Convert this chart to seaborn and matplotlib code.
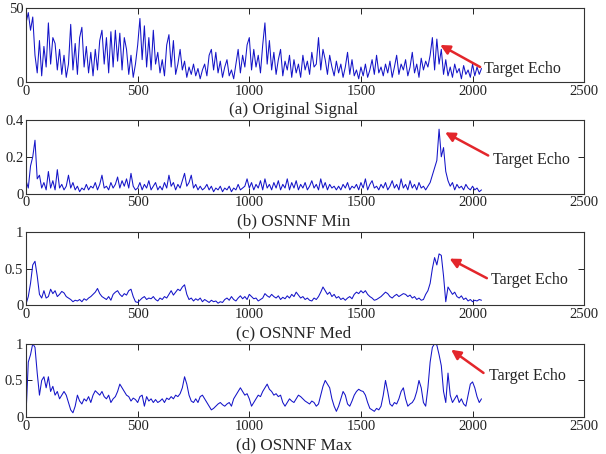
import numpy as np
import seaborn as sns
import matplotlib.pyplot as plt

# sample index (every 10th sample of the 2048-sample record)
samples = np.arange(0, 2048, 10)

# (a) original signal
original = [40, 47, 35, 44, 18, 6, 28, 4, 24, 10,
            40, 12, 30, 26, 8, 22, 5, 18, 3, 12,
            39, 8, 26, 5, 30, 37, 10, 24, 6, 20,
            4, 22, 8, 28, 35, 12, 30, 6, 34, 10,
            35, 14, 33, 8, 30, 22, 5, 18, 3, 12,
            25, 43, 15, 38, 10, 30, 8, 35, 12, 20,
            6, 15, 4, 25, 32, 10, 28, 5, 12, 22,
            8, 14, 3, 10, 5, 12, 4, 9, 2, 8,
            12, 4, 18, 22, 8, 20, 6, 14, 3, 10,
            15, 4, 8, 2, 12, 22, 6, 18, 10, 25,
            30, 8, 22, 10, 18, 6, 25, 40, 12, 28,
            8, 20, 5, 15, 22, 4, 14, 8, 18, 3,
            15, 6, 12, 3, 18, 8, 14, 5, 20, 10,
            12, 30, 8, 22, 15, 5, 18, 10, 4, 14,
            6, 12, 3, 10, 20, 5, 15, 4, 8, 2,
            10, 4, 12, 3, 8, 15, 5, 18, 6, 10,
            4, 12, 6, 14, 3, 10, 18, 5, 12, 8,
            15, 4, 10, 20, 6, 12, 3, 16, 8, 14,
            10, 18, 30, 8, 29, 12, 22, 5, 15, 4,
            10, 3, 12, 6, 9, 2, 11, 5, 8, 3,
            12, 4, 10, 5, 9]

# (b) OSNNF Min
osnnf_min = [0.07, 0.03, 0.15, 0.2, 0.29, 0.08, 0.1, 0.03, 0.06, 0.02,
             0.12, 0.03, 0.07, 0.02, 0.13, 0.03, 0.05, 0.02, 0.04, 0.1,
             0.03, 0.06, 0.02, 0.04, 0.01, 0.03, 0.02, 0.05, 0.02, 0.04,
             0.03, 0.06, 0.02, 0.05, 0.1, 0.03, 0.04, 0.02, 0.06, 0.03,
             0.05, 0.09, 0.03, 0.07, 0.04, 0.08, 0.03, 0.11, 0.04, 0.02,
             0.03, 0.06, 0.02, 0.05, 0.03, 0.07, 0.02, 0.04, 0.06, 0.02,
             0.04, 0.02, 0.06, 0.03, 0.1, 0.04, 0.06, 0.02, 0.05, 0.03,
             0.07, 0.11, 0.04, 0.06, 0.1, 0.03, 0.05, 0.02, 0.04, 0.02,
             0.03, 0.05, 0.02, 0.04, 0.01, 0.03, 0.02, 0.04, 0.01, 0.03,
             0.02, 0.04, 0.01, 0.03, 0.02, 0.05, 0.02, 0.03, 0.04, 0.08,
             0.03, 0.06, 0.02, 0.05, 0.03, 0.07, 0.02, 0.08, 0.03, 0.05,
             0.02, 0.06, 0.03, 0.07, 0.02, 0.05, 0.03, 0.08, 0.02, 0.06,
             0.03, 0.07, 0.02, 0.05, 0.03, 0.06, 0.02, 0.04, 0.07, 0.03,
             0.05, 0.02, 0.08, 0.03, 0.06, 0.02, 0.05, 0.03, 0.04, 0.02,
             0.04, 0.02, 0.05, 0.03, 0.06, 0.02, 0.04, 0.03, 0.05, 0.02,
             0.06, 0.03, 0.08, 0.02, 0.05, 0.07, 0.03, 0.04, 0.02, 0.05,
             0.03, 0.06, 0.02, 0.04, 0.07, 0.03, 0.05, 0.02, 0.08, 0.03,
             0.05, 0.02, 0.07, 0.03, 0.05, 0.02, 0.06, 0.03, 0.04, 0.02,
             0.04, 0.06, 0.1, 0.14, 0.18, 0.35, 0.2, 0.25, 0.12, 0.07,
             0.04, 0.06, 0.02, 0.05, 0.03, 0.04, 0.02, 0.05, 0.03, 0.02,
             0.04, 0.02, 0.03, 0.01, 0.02]

# (c) OSNNF Med
osnnf_med = [0.02, 0.12, 0.3, 0.55, 0.6, 0.4, 0.15, 0.1, 0.2, 0.1,
             0.12, 0.22, 0.16, 0.2, 0.12, 0.15, 0.19, 0.17, 0.12, 0.1,
             0.08, 0.05, 0.07, 0.06, 0.08, 0.05, 0.09, 0.07, 0.1, 0.12,
             0.15, 0.18, 0.23, 0.16, 0.12, 0.1, 0.08, 0.12, 0.07, 0.15,
             0.18, 0.2, 0.15, 0.12, 0.16, 0.14, 0.2, 0.22, 0.12, 0.05,
             0.04, 0.07, 0.1, 0.12, 0.08, 0.1, 0.09, 0.12, 0.08, 0.06,
             0.1, 0.08, 0.12, 0.1, 0.15, 0.2, 0.14, 0.18, 0.22, 0.2,
             0.25, 0.28, 0.15, 0.08, 0.1, 0.06, 0.09, 0.07, 0.1, 0.05,
             0.08, 0.06, 0.04, 0.07, 0.05, 0.06, 0.03, 0.05, 0.04, 0.08,
             0.1, 0.07, 0.12, 0.08, 0.06, 0.1, 0.13, 0.09, 0.12, 0.08,
             0.15, 0.12, 0.09, 0.1, 0.06, 0.08, 0.1, 0.16, 0.13, 0.11,
             0.15, 0.12, 0.1, 0.13, 0.08, 0.11, 0.09, 0.13, 0.1, 0.15,
             0.12, 0.18, 0.14, 0.1, 0.12, 0.08, 0.1, 0.07, 0.06, 0.1,
             0.08, 0.12, 0.18, 0.25, 0.2, 0.15, 0.18, 0.12, 0.15, 0.1,
             0.12, 0.08, 0.1, 0.07, 0.1, 0.12, 0.09, 0.15, 0.18, 0.16,
             0.2, 0.17, 0.2, 0.15, 0.12, 0.1, 0.07, 0.08, 0.1, 0.12,
             0.15, 0.18, 0.16, 0.12, 0.1, 0.13, 0.15, 0.12, 0.14, 0.16,
             0.15, 0.12, 0.14, 0.1, 0.12, 0.08, 0.1, 0.07, 0.08, 0.15,
             0.2, 0.3, 0.5, 0.65, 0.55, 0.7, 0.68, 0.4, 0.05, 0.25,
             0.2, 0.15, 0.18, 0.12, 0.1, 0.13, 0.08, 0.1, 0.06, 0.08,
             0.05, 0.07, 0.06, 0.08, 0.07]

# (d) OSNNF Max
osnnf_max = [0.05, 0.75, 0.85, 1.0, 0.95, 0.6, 0.3, 0.5, 0.55, 0.4,
             0.55, 0.35, 0.42, 0.3, 0.35, 0.25, 0.3, 0.35, 0.3, 0.2,
             0.1, 0.06, 0.15, 0.3, 0.22, 0.18, 0.25, 0.22, 0.28, 0.2,
             0.3, 0.36, 0.33, 0.3, 0.35, 0.28, 0.25, 0.3, 0.2, 0.25,
             0.28, 0.35, 0.45, 0.4, 0.35, 0.3, 0.28, 0.22, 0.26, 0.24,
             0.2, 0.28, 0.3, 0.15, 0.28, 0.22, 0.25, 0.2, 0.24, 0.2,
             0.22, 0.25, 0.2, 0.26, 0.24, 0.28, 0.25, 0.3, 0.28, 0.32,
             0.4, 0.55, 0.45, 0.3, 0.22, 0.2, 0.25, 0.2, 0.28, 0.3,
             0.25, 0.2, 0.15, 0.1, 0.12, 0.15, 0.18, 0.2, 0.17, 0.15,
             0.18, 0.2, 0.15, 0.25, 0.3, 0.35, 0.4, 0.35, 0.3, 0.32,
             0.25, 0.15, 0.2, 0.25, 0.3, 0.28, 0.35, 0.4, 0.45, 0.38,
             0.35, 0.3, 0.32, 0.28, 0.3, 0.2, 0.15, 0.2, 0.25, 0.22,
             0.2, 0.25, 0.3, 0.28, 0.25, 0.22, 0.2, 0.18, 0.22, 0.2,
             0.15, 0.18, 0.3, 0.42, 0.5, 0.45, 0.4, 0.25, 0.15, 0.08,
             0.15, 0.25, 0.35, 0.3, 0.18, 0.15, 0.22, 0.3, 0.35, 0.38,
             0.36, 0.35, 0.3, 0.2, 0.12, 0.1, 0.08, 0.12, 0.1, 0.15,
             0.3, 0.5, 0.35, 0.18, 0.15, 0.2, 0.18, 0.25, 0.35, 0.4,
             0.25, 0.15, 0.18, 0.2, 0.25, 0.35, 0.5, 0.4, 0.2, 0.15,
             0.4, 0.75, 0.95, 1.0, 0.98, 0.85, 0.7, 0.35, 0.2, 0.6,
             0.3, 0.2, 0.25, 0.3, 0.2, 0.25, 0.18, 0.15, 0.3, 0.45,
             0.48, 0.4, 0.28, 0.2, 0.25]

series = [original, osnnf_min, osnnf_med, osnnf_max]
titles = ['(a) Original Signal', '(b) OSNNF Min', '(c) OSNNF Med', '(d) OSNNF Max']
yticks = [[0, 50], [0, 0.2, 0.4], [0, 0.5, 1], [0, 0.5, 1]]
ytick_labels = [['0', '50'], ['0', '0.2', '0.4'], ['0', '0.5', '1'], ['0', '0.5', '1']]
# arrow head (peak) and tail / text position for each panel
arrow_heads = [(1855, 25), (1877, 0.333), (1897, 0.636), (1904, 0.918)]
arrow_tails = [(2034, 10), (2070, 0.207), (2064, 0.37), (2049, 0.602)]
text_pos = [(2052, 8.8), (2090, 0.18), (2084, 0.347), (2075, 0.558)]

sns.set_style('ticks')
plt.rcParams['font.family'] = ['Liberation Serif', 'DejaVu Serif']

fig, axes = plt.subplots(4, 1, figsize=(6.06, 4.54), dpi=100)
fig.subplots_adjust(left=0.043, right=0.964, top=0.982, bottom=0.081, hspace=0.52)

for i, ax in enumerate(axes):
    sns.lineplot(x=samples, y=series[i], ax=ax, color='#1414c8', linewidth=0.75)
    ax.set_xlim(0, 2500)
    ax.set_ylim(yticks[i][0], yticks[i][-1])
    ax.set_xticks([0, 500, 1000, 1500, 2000, 2500])
    ax.set_yticks(yticks[i])
    ax.set_yticklabels(ytick_labels[i])
    ax.tick_params(direction='in', top=True, right=True, length=4, width=0.7,
                   labelsize=10.5, pad=2, colors='#222222')
    for sp in ax.spines.values():
        sp.set_color('#333333')
        sp.set_linewidth(0.8)
    ax.set_xlabel(titles[i], fontsize=12.3, labelpad=3)
    ax.xaxis.label.set_x(0.48)
    ax.annotate('', xy=arrow_heads[i], xytext=arrow_tails[i],
                arrowprops=dict(arrowstyle='-|>', color='#e3262b', lw=1.8,
                                mutation_scale=14, shrinkA=0, shrinkB=0))
    ax.text(text_pos[i][0], text_pos[i][1], 'Target Echo', fontsize=11.5,
            va='center', ha='left')

plt.savefig('out.png', dpi=100)
